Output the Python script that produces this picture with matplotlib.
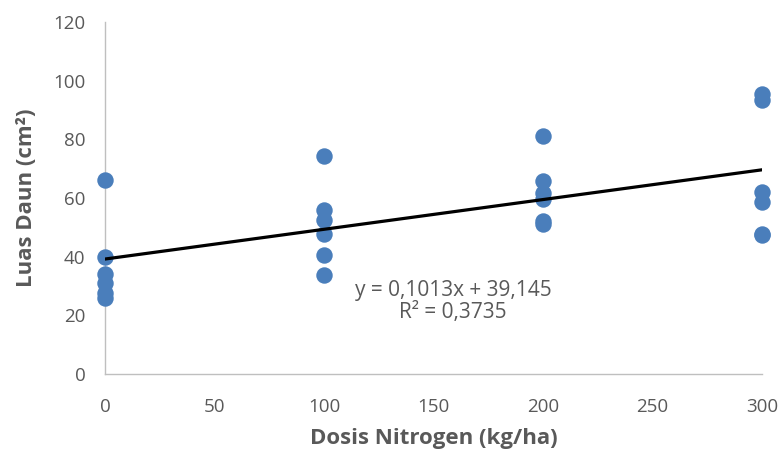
import numpy as np
import matplotlib.pyplot as plt

# Data
dose_0 = [66, 40, 34, 31, 27.5, 26]
dose_100 = [74.3, 55.9, 52.5, 47.6, 40.6, 33.8]
dose_200 = [81.1, 65.9, 61.8, 59.5, 52, 51]
dose_300 = [95.5, 93.5, 62.2, 58.6, 47.8, 47.5]
doses = [0, 100, 200, 300]

x = np.repeat(doses, 6)
y = np.array(dose_0 + dose_100 + dose_200 + dose_300)

plt.rcParams['font.family'] = ['Open Sans', 'DejaVu Sans']
grey = '#595959'

fig = plt.figure(figsize=(7.81, 4.57), dpi=100)
ax = fig.add_axes([105 / 781, 1 - 374 / 457, 657 / 781, 352 / 457])

ax.scatter(x, y, s=140, color='#4a7ebb', zorder=3, clip_on=False, linewidths=0)

# Linear trendline
slope, intercept = np.polyfit(x, y, 1)
xs = np.array([0, 300])
ax.plot(xs, slope * xs + intercept, color='black', linewidth=2.3, zorder=4)

ax.text(159, 28.6, 'y = 0,1013x + 39,145', ha='center', va='center', fontsize=15, color=grey)
ax.text(159, 21.1, 'R² = 0,3735', ha='center', va='center', fontsize=15, color=grey)

ax.set_xlim(0, 300)
ax.set_ylim(0, 120)
ax.set_xticks(range(0, 301, 50))
ax.set_yticks(range(0, 121, 20))
ax.tick_params(length=0, labelsize=13.5, labelcolor=grey)
ax.tick_params(axis='x', pad=17)
ax.tick_params(axis='y', pad=14)

for side in ['top', 'right']:
    ax.spines[side].set_visible(False)
for side in ['left', 'bottom']:
    ax.spines[side].set_color('#bfbfbf')
    ax.spines[side].set_linewidth(1)

ax.set_xlabel('Dosis Nitrogen (kg/ha)', fontsize=16, fontweight='bold', color=grey)
ax.set_ylabel('Luas Daun (cm²)', fontsize=16, fontweight='bold', color=grey)
ax.xaxis.set_label_coords(0.5, -0.153)
ax.yaxis.set_label_coords(-0.104, 0.5)

plt.savefig('out.png', dpi=100)
